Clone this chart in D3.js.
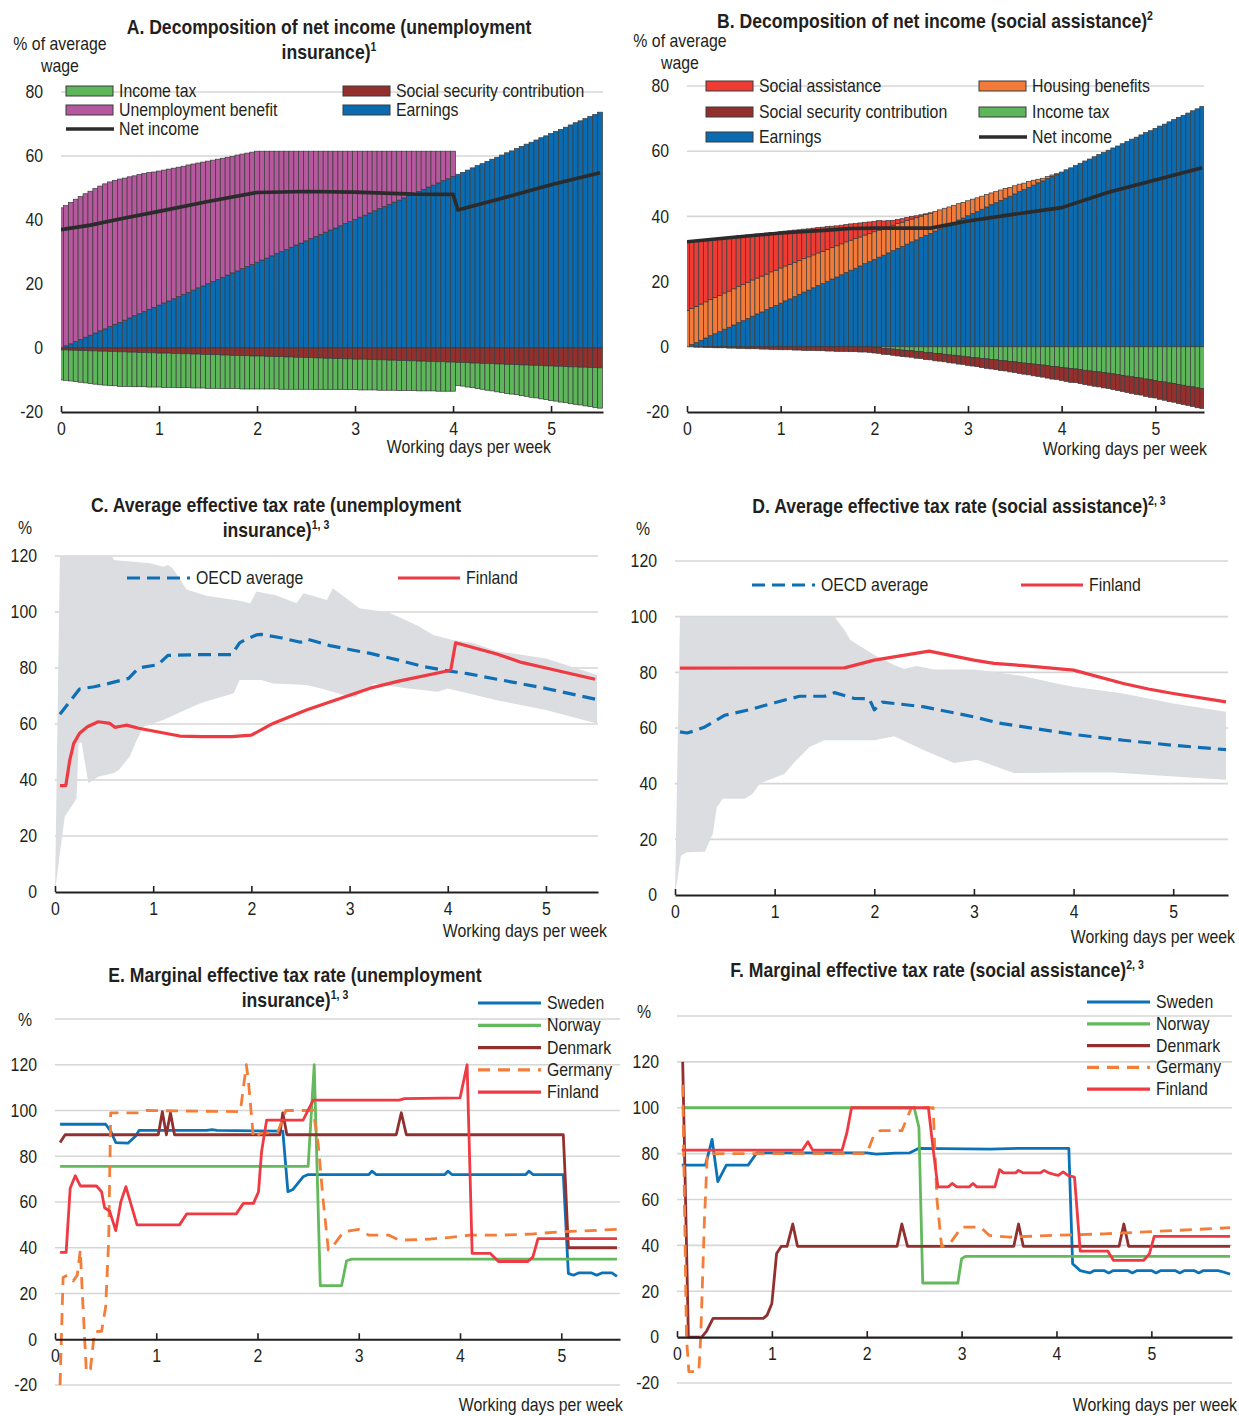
<!DOCTYPE html>
<html>
<head>
<meta charset="utf-8">
<script src="https://cdn.jsdelivr.net/npm/d3@7"></script>
<style>
  body { margin: 0; background: #fff; }
  svg text { font-family: 'Liberation Sans', Arial, sans-serif; fill: #231f20; }
</style>
</head>
<body>
<svg id="fig" width="1239" height="1416"></svg>
<script>
// ---------------- Data ----------------
const xTicks = [0, 1, 2, 3, 4, 5];
const yTicksAB = [-20, 0, 20, 40, 60, 80];
const yTicksCD = [0, 20, 40, 60, 80, 100, 120];
const yTicksEF = [-20, 0, 20, 40, 60, 80, 100, 120];
const gridEF = [-20, 20, 40, 60, 80, 100, 120, 140];

// Bars are drawn every 0.05 working day (0 to 5.5 days)
const barDays = d3.range(111).map(i => Math.round(i * 5) / 100);

// Earnings, % of average wage (same in panels A and B)
const earnings = [
  0, 0.7, 1.3, 2.0, 2.7, 3.4, 4.0, 4.7, 5.4, 6.0,
  6.7, 7.4, 8.0, 8.7, 9.4, 10.1, 10.7, 11.4, 12.1, 12.7,
  13.4, 14.1, 14.7, 15.4, 16.1, 16.8, 17.4, 18.1, 18.8, 19.4,
  20.1, 20.8, 21.4, 22.1, 22.8, 23.5, 24.1, 24.8, 25.5, 26.1,
  26.8, 27.5, 28.1, 28.8, 29.5, 30.2, 30.8, 31.5, 32.2, 32.8,
  33.5, 34.2, 34.8, 35.5, 36.2, 36.9, 37.5, 38.2, 38.9, 39.5,
  40.2, 40.9, 41.5, 42.2, 42.9, 43.6, 44.2, 44.9, 45.6, 46.2,
  46.9, 47.6, 48.2, 48.9, 49.6, 50.3, 50.9, 51.6, 52.3, 52.9,
  53.6, 54.3, 54.9, 55.6, 56.3, 57.0, 57.6, 58.3, 59.0, 59.6,
  60.3, 61.0, 61.6, 62.3, 63.0, 63.7, 64.3, 65.0, 65.7, 66.3,
  67.0, 67.7, 68.3, 69.0, 69.7, 70.4, 71.0, 71.7, 72.4, 73.0,
  73.7
];

// Panel A: unemployment insurance
const unemploymentBenefitA = [
  43.8, 43.8, 44.2, 44.5, 44.6, 44.8, 45.0, 45.1, 45.2, 45.3,
  45.2, 45.0, 44.8, 44.4, 44.1, 43.7, 43.5, 43.1, 42.7, 42.3,
  41.9, 41.5, 41.2, 40.8, 40.4, 40.0, 39.8, 39.4, 39.0, 38.7,
  38.3, 37.9, 37.6, 37.2, 36.8, 36.4, 36.2, 35.8, 35.4, 35.1,
  34.7, 34.0, 33.4, 32.7, 32.0, 31.3, 30.7, 30.0, 29.3, 28.7,
  28.0, 27.3, 26.7, 26.0, 25.3, 24.6, 24.0, 23.3, 22.6, 22.0,
  21.3, 20.6, 20.0, 19.3, 18.6, 17.9, 17.3, 16.6, 15.9, 15.3,
  14.6, 13.9, 13.3, 12.6, 11.9, 11.2, 10.6, 9.9, 9.2, 8.6,
  7.9, 0, 0, 0, 0, 0, 0, 0, 0, 0,
  0, 0, 0, 0, 0, 0, 0, 0, 0, 0,
  0, 0, 0, 0, 0, 0, 0, 0, 0, 0,
  0
];
const socialSecurityA = [
  -0.6, -0.6, -0.7, -0.7, -0.8, -0.8, -0.9, -0.9, -1.0, -1.0,
  -1.1, -1.1, -1.2, -1.2, -1.3, -1.3, -1.4, -1.4, -1.5, -1.5,
  -1.6, -1.6, -1.6, -1.7, -1.7, -1.8, -1.8, -1.9, -1.9, -2.0,
  -2.0, -2.1, -2.1, -2.2, -2.2, -2.3, -2.3, -2.4, -2.4, -2.5,
  -2.5, -2.5, -2.6, -2.6, -2.7, -2.7, -2.8, -2.8, -2.9, -2.9,
  -3.0, -3.0, -3.1, -3.1, -3.2, -3.2, -3.3, -3.3, -3.4, -3.4,
  -3.5, -3.5, -3.5, -3.6, -3.6, -3.7, -3.7, -3.8, -3.8, -3.9,
  -3.9, -4.0, -4.0, -4.1, -4.1, -4.2, -4.2, -4.3, -4.3, -4.4,
  -4.4, -4.5, -4.5, -4.6, -4.7, -4.7, -4.8, -4.8, -4.9, -5.0,
  -5.0, -5.1, -5.1, -5.2, -5.3, -5.3, -5.4, -5.4, -5.5, -5.6,
  -5.6, -5.7, -5.7, -5.8, -5.9, -5.9, -6.0, -6.0, -6.1, -6.1,
  -6.2
];
const incomeTaxA = [
  -9.4, -9.5, -9.6, -9.8, -9.9, -10.1, -10.2, -10.4, -10.5, -10.6,
  -10.6, -10.7, -10.8, -10.8, -10.7, -10.8, -10.7, -10.7, -10.7, -10.7,
  -10.6, -10.7, -10.7, -10.6, -10.7, -10.6, -10.6, -10.6, -10.6, -10.5,
  -10.6, -10.5, -10.5, -10.5, -10.5, -10.4, -10.4, -10.4, -10.4, -10.3,
  -10.3, -10.3, -10.2, -10.2, -10.1, -10.2, -10.1, -10.1, -10.0, -10.0,
  -9.9, -9.9, -9.9, -9.9, -9.8, -9.8, -9.7, -9.7, -9.6, -9.6,
  -9.5, -9.6, -9.6, -9.5, -9.5, -9.5, -9.5, -9.4, -9.4, -9.4,
  -9.4, -9.3, -9.3, -9.3, -9.3, -9.2, -9.2, -9.2, -9.2, -9.1,
  -9.1, -7.2, -7.4, -7.6, -7.7, -8.0, -8.1, -8.4, -8.5, -8.7,
  -8.9, -9.1, -9.3, -9.4, -9.6, -9.8, -10.0, -10.2, -10.4, -10.5,
  -10.8, -10.9, -11.2, -11.3, -11.5, -11.7, -11.8, -12.1, -12.2, -12.5,
  -12.6
];
const netIncomeA = [
  [0, 37], [0.3, 38.4], [0.65, 40.6], [1, 42.7], [1.5, 45.8], [2, 48.6], [2.5, 48.9],
  [3, 48.7], [3.6, 48.1], [4, 48], [4.05, 43.1], [4.5, 46.8], [5, 51], [5.5, 54.8]
];

// Panel B: social assistance
const housingB = [
  11.1, 11.1, 11.1, 11.1, 11.1, 11.1, 11.1, 11.1, 11.1, 11.1,
  11.1, 11.1, 11.1, 11.1, 11.1, 11.0, 11.0, 10.9, 10.9, 10.8,
  10.8, 10.7, 10.6, 10.5, 10.4, 10.3, 10.2, 10.1, 10.0, 9.9,
  9.8, 9.7, 9.6, 9.5, 9.4, 9.2, 9.1, 8.9, 8.8, 8.6,
  8.5, 8.3, 8.1, 7.9, 7.8, 7.6, 7.4, 7.2, 7.0, 6.8,
  6.6, 6.4, 6.2, 6.0, 5.8, 5.6, 5.4, 5.2, 5.0, 4.8,
  4.6, 4.4, 4.2, 4.0, 3.8, 3.6, 3.4, 3.2, 3.0, 2.7,
  2.5, 2.3, 2.0, 1.8, 1.5, 1.1, 0.8, 0.6, 0.4, 0.2,
  0, 0, 0, 0, 0, 0, 0, 0, 0, 0,
  0, 0, 0, 0, 0, 0, 0, 0, 0, 0,
  0, 0, 0, 0, 0, 0, 0, 0, 0, 0,
  0
];
const socialAssistanceB = [
  20.9, 20.4, 19.9, 19.4, 18.9, 18.5, 18.0, 17.5, 17.0, 16.5,
  16.0, 15.5, 15.0, 14.5, 14.0, 13.5, 13.1, 12.6, 12.1, 11.6,
  11.1, 10.7, 10.3, 9.9, 9.4, 9.0, 8.6, 8.2, 7.8, 7.4,
  7.0, 6.5, 6.1, 5.7, 5.3, 5.0, 4.6, 4.3, 3.9, 3.6,
  3.2, 2.9, 2.4, 2.0, 1.5, 1.3, 1.1, 1.0, 0.8, 0.6,
  0.4, 0.2, 0.1, 0, 0, 0, 0, 0, 0, 0,
  0, 0, 0, 0, 0, 0, 0, 0, 0, 0,
  0, 0, 0, 0, 0, 0, 0, 0, 0, 0,
  0, 0, 0, 0, 0, 0, 0, 0, 0, 0,
  0, 0, 0, 0, 0, 0, 0, 0, 0, 0,
  0, 0, 0, 0, 0, 0, 0, 0, 0, 0,
  0
];
const incomeTaxB = [
  0, 0, 0, 0, 0, 0, 0, 0, 0, 0,
  0, 0, 0, 0, 0, 0, 0, 0, 0, 0,
  0, 0, 0, 0, 0, 0, 0, 0, 0, 0,
  0, 0, 0, 0, 0, 0, 0, 0, 0, 0,
  -0.2, -0.3, -0.5, -0.6, -0.7, -0.9, -1.0, -1.1, -1.2, -1.4,
  -1.5, -1.7, -1.8, -2.0, -2.1, -2.3, -2.5, -2.6, -2.8, -2.9,
  -3.1, -3.3, -3.4, -3.6, -3.7, -3.9, -4.0, -4.2, -4.3, -4.5,
  -4.6, -4.8, -5.0, -5.1, -5.3, -5.5, -5.6, -5.8, -6.0, -6.1,
  -6.3, -6.5, -6.7, -6.8, -7.0, -7.2, -7.4, -7.6, -7.7, -7.9,
  -8.1, -8.3, -8.5, -8.8, -9.0, -9.2, -9.4, -9.6, -9.9, -10.1,
  -10.3, -10.6, -10.8, -11.1, -11.3, -11.6, -11.8, -12.1, -12.3, -12.6,
  -12.8
];
const socialSecurityB = [
  0, 0, -0.1, -0.1, -0.2, -0.2, -0.3, -0.3, -0.3, -0.4,
  -0.4, -0.5, -0.5, -0.6, -0.6, -0.6, -0.7, -0.7, -0.8, -0.8,
  -0.9, -0.9, -0.9, -1.0, -1.0, -1.1, -1.1, -1.1, -1.2, -1.2,
  -1.3, -1.3, -1.4, -1.4, -1.4, -1.5, -1.5, -1.6, -1.6, -1.7,
  -1.7, -1.7, -1.8, -1.8, -1.9, -1.9, -2.0, -2.0, -2.0, -2.1,
  -2.1, -2.2, -2.2, -2.3, -2.3, -2.3, -2.4, -2.4, -2.5, -2.5,
  -2.6, -2.6, -2.7, -2.8, -2.9, -2.9, -3.0, -3.1, -3.1, -3.2,
  -3.3, -3.4, -3.4, -3.5, -3.6, -3.6, -3.7, -3.8, -3.9, -3.9,
  -4.0, -4.1, -4.2, -4.2, -4.3, -4.4, -4.4, -4.5, -4.6, -4.7,
  -4.7, -4.8, -4.9, -4.9, -5.0, -5.1, -5.2, -5.2, -5.3, -5.4,
  -5.4, -5.5, -5.6, -5.7, -5.7, -5.8, -5.9, -5.9, -6.0, -6.1,
  -6.1
];
const netIncomeB = [
  [0, 32.2], [0.5, 33.6], [1, 34.9], [1.5, 35.8], [1.75, 36.3], [2, 36.4], [2.6, 36.4],
  [3, 38.6], [3.5, 40.7], [4, 42.7], [4.5, 47.4], [5, 51.2], [5.5, 54.9]
];

// Panel C: average effective tax rate, unemployment insurance (days, %)
const oecdC = [
  [0.05, 63.5], [0.15, 68], [0.25, 72.5], [0.4, 73.3], [0.55, 74.5], [0.75, 76.3], [0.85, 80],
  [1.05, 81.2], [1.15, 84.5], [1.5, 84.8], [1.8, 84.8], [1.88, 89], [1.95, 90.3], [2.05, 91.8],
  [2.1, 92], [2.3, 90.8], [2.5, 89.2], [2.57, 90.3], [2.8, 88], [3.0, 86.6], [3.2, 85.3],
  [3.5, 82.8], [3.75, 80.5], [4.0, 79], [4.2, 78], [4.5, 76], [5.0, 72.7], [5.5, 68.9]
];
const finlandC = [
  [0.05, 38], [0.11, 38], [0.15, 47], [0.19, 53], [0.25, 56.7], [0.33, 59], [0.44, 60.8],
  [0.56, 60.2], [0.61, 58.8], [0.67, 59.2], [0.73, 59.6], [0.85, 58.5], [1.0, 57.5], [1.27, 55.7],
  [1.5, 55.5], [1.8, 55.5], [2.0, 56], [2.22, 60.2], [2.56, 65], [3.0, 70.3], [3.21, 72.8],
  [3.5, 75.3], [4.03, 79.2], [4.08, 89], [4.5, 85], [4.75, 82], [5.0, 80], [5.5, 76]
];
const rangeHighC = [
  [0, 0], [0.05, 120], [0.58, 120], [0.6, 118.6], [0.97, 117.4], [1.1, 116.2], [1.15, 116.8],
  [1.2, 115.5], [1.34, 108], [1.54, 105.8], [1.88, 104], [1.99, 103.1], [2.05, 107.3], [2.25, 106],
  [2.46, 103.1], [2.53, 106.7], [2.77, 104.3], [2.83, 108.5], [3.1, 101.3], [3.4, 99.8], [3.7, 95],
  [3.85, 91.8], [4.05, 90], [4.25, 89], [4.5, 86], [5.0, 83.4], [5.52, 77.5]
];
const rangeLowC = [
  [0, 0], [0.05, 14], [0.1, 27], [0.19, 31.7], [0.22, 33.6], [0.24, 53], [0.27, 53.5], [0.34, 38.8],
  [0.44, 41.2], [0.6, 42.5], [0.65, 43.6], [0.76, 48.3], [0.83, 54], [0.9, 59], [1.1, 61.4],
  [1.48, 67.4], [1.82, 71], [1.88, 75.7], [2.1, 75.7], [2.22, 74.5], [2.56, 73.9], [2.7, 72.8],
  [2.94, 70.4], [3.05, 69.5], [3.25, 74.5], [3.6, 72.7], [3.9, 71.5], [4.0, 72.7], [4.5, 68.5],
  [5.0, 65], [5.52, 60.2]
];

// Panel D: average effective tax rate, social assistance
const oecdD = [
  [0.05, 58.6], [0.12, 58.2], [0.2, 59], [0.3, 60.4], [0.5, 64.6], [0.75, 66.6], [1.0, 69.1],
  [1.25, 71.4], [1.5, 71.4], [1.6, 72.7], [1.8, 70.6], [1.95, 70.5], [2.0, 66.5], [2.08, 69.3],
  [2.5, 67.6], [3.0, 64], [3.25, 61.8], [3.5, 60.4], [4.0, 57.7], [4.5, 55.6], [5.0, 53.8], [5.53, 52.2]
];
const finlandD = [
  [0.05, 81.5], [1.7, 81.6], [2.0, 84.4], [2.55, 87.6], [3.0, 84.4], [3.2, 83.2], [3.5, 82.4],
  [4.0, 80.8], [4.5, 76], [4.75, 74], [5.0, 72.4], [5.53, 69.4]
];
const rangeHighD = [
  [0, 0], [0.05, 100], [1.6, 100], [1.7, 95.2], [1.76, 91.6], [2.0, 86.2], [2.2, 82.6], [2.3, 81.2],
  [2.42, 82.3], [2.6, 81], [3.0, 81], [3.19, 80.2], [3.5, 78.6], [3.83, 76], [4.0, 74.8],
  [4.5, 72.4], [5.0, 68.8], [5.53, 65.8]
];
const rangeLowD = [
  [0, 0], [0.06, 14.2], [0.12, 15.4], [0.3, 15.5], [0.38, 22], [0.42, 31.6], [0.48, 34.6],
  [0.7, 34.6], [0.78, 36.4], [0.85, 40], [1.1, 43.6], [1.2, 47.8], [1.35, 53.2], [1.5, 55.6],
  [2.0, 55.6], [2.2, 57], [2.5, 52], [2.8, 47.4], [3.03, 48.6], [3.4, 43.8], [4.0, 44],
  [4.4, 44], [5.0, 42.6], [5.53, 41.4]
];

// Panel E: marginal effective tax rate, unemployment insurance
const swedenE = [
  [0.05, 94], [0.5, 94], [0.55, 91], [0.6, 86], [0.72, 85.7], [0.8, 89], [0.83, 91.3], [1.5, 91.3],
  [1.55, 91.6], [1.6, 91.3], [2.25, 91], [2.3, 64.5], [2.35, 65.5], [2.45, 71], [2.5, 72],
  [3.1, 72], [3.13, 73.5], [3.17, 72], [3.85, 72], [3.88, 73.5], [3.92, 72], [4.65, 72],
  [4.68, 73.5], [4.72, 72], [5.02, 72], [5.07, 28.8], [5.12, 28], [5.17, 29], [5.3, 29],
  [5.35, 28], [5.4, 29], [5.5, 29], [5.55, 27.5]
];
const norwayE = [
  [0.05, 75.6], [2.5, 75.6], [2.56, 120], [2.62, 23.4], [2.83, 23.4], [2.88, 34.3], [2.93, 35], [5.55, 35]
];
const denmarkE = [
  [0.05, 86], [0.1, 89.4], [1.02, 89.4], [1.06, 99.5], [1.1, 89.4], [1.14, 99], [1.18, 89.4],
  [2.22, 89.4], [2.25, 99], [2.29, 89.4], [3.37, 89.4], [3.42, 99], [3.47, 89.4], [5.02, 89.4],
  [5.07, 40], [5.55, 40]
];
const germanyE = [
  [0.05, -20], [0.08, 27], [0.12, 28], [0.18, 25.5], [0.22, 28], [0.25, 39], [0.27, 20],
  [0.31, -14.5], [0.35, -13], [0.39, 3.3], [0.46, 3.5], [0.5, 14], [0.53, 43], [0.55, 99],
  [0.85, 99], [0.9, 100], [1.83, 99.5], [1.89, 120], [1.91, 113], [1.96, 88], [2.03, 90],
  [2.2, 90.5], [2.28, 100], [2.55, 100], [2.6, 85], [2.65, 60], [2.7, 39], [2.75, 41],
  [2.85, 47], [3.0, 48], [3.1, 45.5], [3.3, 45.5], [3.4, 43.3], [3.7, 43.8], [3.9, 44.5],
  [4.1, 45.5], [4.4, 45.5], [4.7, 46], [5.0, 47], [5.55, 48]
];
const finlandE = [
  [0.05, 38], [0.11, 38], [0.15, 66], [0.2, 71.5], [0.25, 67], [0.41, 67], [0.46, 64.5],
  [0.49, 57.5], [0.54, 56], [0.6, 47.5], [0.65, 60], [0.7, 66.7], [0.81, 50], [1.23, 50],
  [1.3, 54.8], [1.79, 54.8], [1.86, 59.4], [1.96, 59.4], [2.01, 64.5], [2.04, 82], [2.09, 95.8],
  [2.45, 95.8], [2.55, 104.5], [3.4, 104.5], [3.45, 105.2], [4.0, 105.5], [4.07, 120],
  [4.12, 37.5], [4.3, 37.5], [4.38, 34], [4.67, 34], [4.72, 36], [4.77, 44], [5.55, 44]
];

// Panel F: marginal effective tax rate, social assistance
const swedenF = [
  [0.05, 75], [0.3, 75], [0.37, 86.2], [0.43, 67.8], [0.52, 75], [0.75, 75], [0.84, 80.3],
  [2.0, 80.3], [2.1, 79.8], [2.3, 80.2], [2.45, 80.3], [2.55, 82.3], [3.3, 82], [3.6, 82.3],
  [4.13, 82.3], [4.17, 32], [4.25, 29], [4.35, 28], [4.4, 29], [4.5, 29], [4.55, 28], [4.6, 29],
  [4.75, 29], [4.8, 28], [4.85, 29], [5.0, 29], [5.05, 28], [5.1, 29], [5.25, 29], [5.3, 28],
  [5.35, 29], [5.45, 29], [5.5, 28], [5.55, 29], [5.7, 29], [5.75, 28.5], [5.83, 27.5]
];
const norwayF = [
  [0.05, 100], [2.5, 100], [2.55, 91.5], [2.59, 23.6], [2.96, 23.6], [3.0, 34.2], [3.04, 35.2], [5.83, 35.2]
];
const denmarkF = [
  [0.06, 120], [0.12, 0], [0.26, 0], [0.31, 2.5], [0.38, 8.2], [0.91, 8.2], [0.95, 9.6],
  [1.0, 14.7], [1.05, 36.5], [1.1, 39.6], [1.16, 39.6], [1.22, 49.3], [1.27, 39.6], [2.32, 39.6],
  [2.37, 49.3], [2.43, 39.6], [3.55, 39.6], [3.6, 49.3], [3.65, 39.6], [4.66, 39.6], [4.71, 49.3],
  [4.76, 39.6], [5.83, 39.6]
];
const germanyF = [
  [0.06, 110], [0.1, 0], [0.125, -15], [0.23, -15], [0.25, 0], [0.29, 52], [0.32, 80], [2.0, 80],
  [2.07, 87.4], [2.14, 90], [2.37, 90], [2.44, 97], [2.47, 100], [2.7, 100], [2.74, 60],
  [2.79, 39.4], [2.88, 41], [2.95, 45], [3.0, 48], [3.2, 48], [3.29, 44.4], [3.5, 43.6],
  [4.0, 44.4], [4.5, 45], [5.0, 46], [5.5, 47], [5.83, 47.7]
];
const finlandF = [
  [0.05, 81.5], [1.32, 81.5], [1.38, 85.2], [1.43, 81.5], [1.74, 81.5], [1.79, 89], [1.84, 100],
  [2.65, 100], [2.7, 82], [2.75, 65.5], [2.86, 65.5], [2.9, 67], [2.95, 65.5], [3.08, 65.5],
  [3.12, 67], [3.16, 65.5], [3.35, 65.5], [3.4, 73], [3.44, 71.6], [3.57, 71.6], [3.6, 72.7],
  [3.65, 71.6], [3.83, 71.6], [3.87, 72.7], [3.92, 71.6], [3.97, 71], [4.02, 70.5], [4.07, 72],
  [4.12, 70.5], [4.19, 69.8], [4.25, 37.5], [4.54, 37.5], [4.6, 33.5], [4.92, 33.5],
  [4.98, 36.4], [5.03, 43.9], [5.83, 43.9]
];

// ---------------- Styles ----------------
const C = {
  green: '#5db75a', pink: '#b5589d', darkRed: '#93302d', blue: '#0a6bb0',
  saRed: '#ee3b34', orange: '#f27b3a', net: '#2b2b2b',
  finland: '#ee3a43', oecd: '#0e6fb5', sweden: '#0b72b8', norway: '#63b95c',
  denmark: '#923030', germany: '#f47d3a', band: '#dcdde0', grid: '#d6d6d6', axis: '#231f20'
};
const FS = 18;         // body text size
const TITLE_FS = 20;   // panel title size
const NARROW = 0.88;   // horizontal squeeze giving a narrow sans face

const svg = d3.select('#fig');
svg.append('rect').attr('width', 1239).attr('height', 1416).attr('fill', '#fff');

// ---------------- Helpers ----------------
const fmt = d => String(d);

function frame(p) {
  const g = svg.append('g');
  const x = d3.scaleLinear().domain(p.xDomain).range(p.xRange);
  const y = d3.scaleLinear().domain(p.yDomain).range(p.yRange);
  g.selectAll('line.grid').data(p.grid).join('line')
    .attr('x1', p.xRange[0]).attr('x2', p.xRange[1])
    .attr('y1', d => y(d)).attr('y2', d => y(d))
    .attr('stroke', C.grid).attr('stroke-width', 1.6);
  const ya = g.append('g').attr('transform', `translate(${p.xRange[0]},0)`)
    .call(d3.axisLeft(y).tickValues(p.yTicks).tickSize(0).tickPadding(18).tickFormat(fmt));
  ya.select('.domain').remove();
  ya.selectAll('text').attr('font-size', FS);
  const clipId = 'clip' + p.id;
  svg.append('clipPath').attr('id', clipId).append('rect')
    .attr('x', p.xRange[0]).attr('y', p.yRange[1])
    .attr('width', p.xRange[1] - p.xRange[0]).attr('height', p.yRange[0] - p.yRange[1]);
  const plot = g.append('g').attr('clip-path', `url(#${clipId})`);
  const top = g.append('g');
  return { g, x, y, plot, top };
}

function xAxis(f, p) {
  const ax = f.top.append('g').attr('transform', `translate(0,${f.y(p.axisAt)})`)
    .call(d3.axisBottom(f.x).tickValues(xTicks).tickSize(-6).tickSizeOuter(0).tickPadding(10).tickFormat(fmt));
  ax.select('.domain').attr('stroke', C.axis).attr('stroke-width', 2.2);
  ax.selectAll('.tick line').attr('stroke', C.axis).attr('stroke-width', 1.6);
  ax.selectAll('text').attr('font-size', FS);
  f.top.append('text').attr('x', p.xLabel[0]).attr('y', p.xLabel[1])
    .attr('text-anchor', 'end').attr('font-size', FS).text('Working days per week');
}

function title(lines, cx, y0) {
  lines.forEach((segs, i) => {
    const t = svg.append('text').attr('x', cx).attr('y', y0 + i * 25)
      .attr('text-anchor', 'middle').attr('font-size', TITLE_FS).attr('font-weight', 'bold');
    segs.forEach(s => {
      if (s.sup) t.append('tspan').attr('font-size', 12).attr('dy', -8).text(s.sup);
      else t.append('tspan').text(s.t);
    });
  });
}

function unitLabel(lines, cx, y0) {
  lines.forEach((s, i) => svg.append('text').attr('x', cx).attr('y', y0 + i * 22)
    .attr('text-anchor', 'middle').attr('font-size', FS).text(s));
}

function bars(f, series, keys, colors, netPts) {
  const rows = barDays.map((d, i) => {
    const r = { day: d };
    keys.forEach(k => r[k] = series[k][i]);
    return r;
  });
  const stacked = d3.stack().keys(keys).offset(d3.stackOffsetDiverging)(rows);
  const w = f.x(0.05) - f.x(0);
  stacked.forEach(s => {
    f.plot.append('g').selectAll('rect')
      .data(s.filter(d => d[1] !== d[0]))
      .join('rect')
      .attr('x', d => f.x(d.data.day) - w / 2)
      .attr('width', w)
      .attr('y', d => f.y(Math.max(d[0], d[1])))
      .attr('height', d => Math.abs(f.y(d[0]) - f.y(d[1])))
      .attr('fill', colors[s.key])
      .attr('stroke', '#3a3a3a').attr('stroke-width', 0.7);
  });
  f.plot.append('path').datum(netPts)
    .attr('d', d3.line().x(d => f.x(d[0])).y(d => f.y(d[1])))
    .attr('fill', 'none').attr('stroke', C.net).attr('stroke-width', 3.6)
    .attr('stroke-linejoin', 'round');
}

function barLegend(items) {
  items.forEach(it => {
    if (it.line) {
      svg.append('line').attr('x1', it.x).attr('x2', it.x + 48).attr('y1', it.y).attr('y2', it.y)
        .attr('stroke', C.net).attr('stroke-width', 3.6);
    } else {
      svg.append('rect').attr('x', it.x).attr('y', it.y - 5).attr('width', 47).attr('height', 10)
        .attr('fill', it.color).attr('stroke', '#3a3a3a').attr('stroke-width', 1);
    }
    svg.append('text').attr('x', it.x + 53).attr('y', it.y + 6).attr('font-size', FS).text(it.label);
  });
}

function lineLegend(items) {
  items.forEach(it => {
    svg.append('line').attr('x1', it.x).attr('x2', it.x + it.len).attr('y1', it.y).attr('y2', it.y)
      .attr('stroke', it.color).attr('stroke-width', 3.2)
      .attr('stroke-dasharray', it.dash || null);
    svg.append('text').attr('x', it.x + it.len + 6).attr('y', it.y + 6).attr('font-size', FS).text(it.label);
  });
}

const lineGen = f => d3.line().x(d => f.x(d[0])).y(d => f.y(d[1]));

function drawLine(f, pts, color, dash, width) {
  f.plot.append('path').datum(pts).attr('d', lineGen(f))
    .attr('fill', 'none').attr('stroke', color).attr('stroke-width', width)
    .attr('stroke-dasharray', dash || null)
    .attr('stroke-linejoin', 'round');
}

// Min-max range across countries, as a filled area
function band(f, hi, lo) {
  const pts = hi.concat(lo.slice().reverse());
  const gen = lineGen(f);
  f.plot.append('path').datum(pts).attr('d', d => gen(d) + 'Z').attr('fill', C.band);
}

// ---------------- Panel A ----------------
{
  const p = { id: 'A', xDomain: [0, 5.53], xRange: [61, 603], yDomain: [-20, 80], yRange: [412, 92],
    grid: [0, 20, 40, 60, 80], yTicks: yTicksAB, axisAt: -20, xLabel: [551, 453] };
  const f = frame(p);
  bars(f, { earnings, ub: unemploymentBenefitA, ssc: socialSecurityA, tax: incomeTaxA },
    ['earnings', 'ub', 'ssc', 'tax'],
    { earnings: C.blue, ub: C.pink, ssc: C.darkRed, tax: C.green }, netIncomeA);
  xAxis(f, p);
  title([[{ t: 'A. Decomposition of net income (unemployment' }], [{ t: 'insurance)' }, { sup: '1' }]], 329, 34);
  unitLabel(['% of average', 'wage'], 60, 50);
  barLegend([
    { x: 66, y: 91, color: C.green, label: 'Income tax' },
    { x: 343, y: 91, color: C.darkRed, label: 'Social security contribution' },
    { x: 66, y: 110, color: C.pink, label: 'Unemployment benefit' },
    { x: 343, y: 110, color: C.blue, label: 'Earnings' },
    { x: 66, y: 129, line: true, label: 'Net income' }
  ]);
}

// ---------------- Panel B ----------------
{
  const p = { id: 'B', xDomain: [0, 5.52], xRange: [687, 1204], yDomain: [-20, 80], yRange: [412, 86],
    grid: [0, 20, 40, 60, 80], yTicks: yTicksAB, axisAt: -20, xLabel: [1207, 455] };
  const f = frame(p);
  bars(f, { earnings, housing: housingB, sa: socialAssistanceB, tax: incomeTaxB, ssc: socialSecurityB },
    ['earnings', 'housing', 'sa', 'tax', 'ssc'],
    { earnings: C.blue, housing: C.orange, sa: C.saRed, tax: C.green, ssc: C.darkRed }, netIncomeB);
  xAxis(f, p);
  title([[{ t: 'B. Decomposition of net income (social assistance)' }, { sup: '2' }]], 935, 28);
  unitLabel(['% of average', 'wage'], 680, 47);
  barLegend([
    { x: 706, y: 86, color: C.saRed, label: 'Social assistance' },
    { x: 979, y: 86, color: C.orange, label: 'Housing benefits' },
    { x: 706, y: 112, color: C.darkRed, label: 'Social security contribution' },
    { x: 979, y: 112, color: C.green, label: 'Income tax' },
    { x: 706, y: 137, color: C.blue, label: 'Earnings' },
    { x: 979, y: 137, line: true, label: 'Net income' }
  ]);
}

// ---------------- Panel C ----------------
{
  const p = { id: 'C', xDomain: [0, 5.53], xRange: [55, 598], yDomain: [0, 120], yRange: [892, 556],
    grid: [20, 40, 60, 80, 100, 120], yTicks: yTicksCD, axisAt: 0, xLabel: [607, 937] };
  const f = frame(p);
  band(f, rangeHighC, rangeLowC);
  drawLine(f, oecdC, C.oecd, '13,7', 3.2);
  drawLine(f, finlandC, C.finland, null, 3.2);
  xAxis(f, p);
  title([[{ t: 'C. Average effective tax rate (unemployment' }], [{ t: 'insurance)' }, { sup: '1, 3' }]], 276, 512);
  unitLabel(['%'], 25, 534);
  lineLegend([
    { x: 127, y: 578, len: 63, color: C.oecd, dash: '13,7', label: 'OECD average' },
    { x: 398, y: 578, len: 62, color: C.finland, label: 'Finland' }
  ]);
}

// ---------------- Panel D ----------------
{
  const p = { id: 'D', xDomain: [0, 5.55], xRange: [675, 1228], yDomain: [0, 120], yRange: [895, 561],
    grid: [20, 40, 60, 80, 100, 120], yTicks: yTicksCD, axisAt: 0, xLabel: [1235, 943] };
  const f = frame(p);
  band(f, rangeHighD, rangeLowD);
  drawLine(f, oecdD, C.oecd, '13,7', 3.2);
  drawLine(f, finlandD, C.finland, null, 3.2);
  xAxis(f, p);
  title([[{ t: 'D. Average effective tax rate (social assistance)' }, { sup: '2, 3' }]], 959, 513);
  unitLabel(['%'], 643, 535);
  lineLegend([
    { x: 752, y: 585, len: 63, color: C.oecd, dash: '13,7', label: 'OECD average' },
    { x: 1021, y: 585, len: 62, color: C.finland, label: 'Finland' }
  ]);
}

// ---------------- Panels E and F ----------------
const countryKeys = ['Sweden', 'Norway', 'Denmark', 'Germany', 'Finland'];
const countryColors = [C.sweden, C.norway, C.denmark, C.germany, C.finland];
const countryDash = [null, null, null, '12,8', null];
{
  const p = { id: 'E', xDomain: [0, 5.58], xRange: [55, 620], yDomain: [-20, 140], yRange: [1385, 1019],
    grid: gridEF, yTicks: yTicksEF, axisAt: 0, xLabel: [623, 1411] };
  const f = frame(p);
  [swedenE, norwayE, denmarkE, germanyE, finlandE].forEach((s, i) =>
    drawLine(f, s, countryColors[i], countryDash[i], 2.8));
  xAxis(f, p);
  title([[{ t: 'E. Marginal effective tax rate (unemployment' }], [{ t: 'insurance)' }, { sup: '1, 3' }]], 295, 982);
  unitLabel(['%'], 25, 1026);
  lineLegend(countryKeys.map((k, i) => ({ x: 478, y: 1003 + i * 22.3, len: 63, color: countryColors[i], dash: countryDash[i], label: k })));
}
{
  const p = { id: 'F', xDomain: [0, 5.85], xRange: [677, 1232], yDomain: [-20, 140], yRange: [1383, 1016],
    grid: gridEF, yTicks: yTicksEF, axisAt: 0, xLabel: [1237, 1411] };
  const f = frame(p);
  [swedenF, norwayF, denmarkF, germanyF, finlandF].forEach((s, i) =>
    drawLine(f, s, countryColors[i], countryDash[i], 2.8));
  xAxis(f, p);
  title([[{ t: 'F. Marginal effective tax rate (social assistance)' }, { sup: '2, 3' }]], 937, 977);
  unitLabel(['%'], 644, 1018);
  lineLegend(countryKeys.map((k, i) => ({ x: 1087, y: 1002 + i * 21.8, len: 63, color: countryColors[i], dash: countryDash[i], label: k })));
}

// Squeeze every label horizontally around its anchor point for a narrow typeface look
svg.selectAll('text').each(function () {
  const x = +(this.getAttribute('x') || 0);
  const y = +(this.getAttribute('y') || 0);
  this.setAttribute('transform', `translate(${x},${y}) scale(${NARROW},1) translate(${-x},${-y})`);
});
</script>
</body>
</html>
